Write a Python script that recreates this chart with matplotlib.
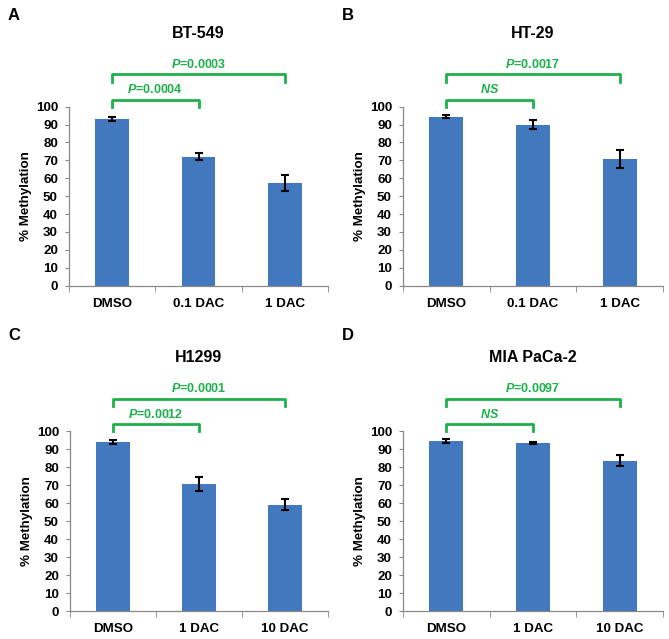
import matplotlib.pyplot as plt

plt.rcParams['font.family'] = 'Liberation Sans'
plt.rcParams['font.weight'] = 'bold'
plt.rcParams['mathtext.fontset'] = 'custom'
plt.rcParams['mathtext.it'] = 'Liberation Sans:italic:bold'
plt.rcParams['mathtext.rm'] = 'Liberation Sans:bold'

# data
titles = ['BT-549', 'HT-29', 'H1299', 'MIA PaCa-2']
letters = ['A', 'B', 'C', 'D']
groups_ab = ['DMSO', '0.1 DAC', '1 DAC']
groups_cd = ['DMSO', '1 DAC', '10 DAC']

bt549_mean = [93.0, 72.0, 57.5]
bt549_err = [1.0, 2.0, 4.5]
ht29_mean = [94.5, 90.0, 71.0]
ht29_err = [1.0, 2.5, 5.0]
h1299_mean = [94.0, 70.5, 59.0]
h1299_err = [1.0, 4.0, 3.0]
mia_mean = [94.5, 93.3, 83.5]
mia_err = [1.0, 0.7, 3.0]

pval_near = ['$P$=0.0004', '$NS$', '$P$=0.0012', '$NS$']
pval_far = ['$P$=0.0003', '$P$=0.0017', '$P$=0.0001', '$P$=0.0097']

bar_color = '#4178BE'
green = '#1DB04B'

fig = plt.figure(figsize=(6.69, 6.39), dpi=100)

# axes boxes in pixels: left, right, y of value 0, y of value 100
boxes = [(69, 328, 285.7, 106.7), (403, 663, 285.7, 106.7),
         (70, 328, 611, 431), (403, 663, 611, 431)]
letter_pos = [(14, 15), (348, 15), (14, 335), (348, 335)]

means = [bt549_mean, ht29_mean, h1299_mean, mia_mean]
errs = [bt549_err, ht29_err, h1299_err, mia_err]
cats = [groups_ab, groups_ab, groups_cd, groups_cd]

W, H = 669, 639
for i in range(4):
    l, r, y0, y100 = boxes[i]
    ax = fig.add_axes([l / W, 1 - y0 / H, (r - l) / W, (y0 - y100) / H])
    x = list(range(3))
    ax.bar(x, means[i], width=0.39, color=bar_color, zorder=2)
    ax.errorbar(x, means[i], yerr=errs[i], fmt='none', ecolor='black',
                elinewidth=1.5, capsize=2.8, capthick=1.5, zorder=3)
    ax.set_xlim(-0.5, 2.5)
    ax.set_ylim(0, 100)
    ax.set_yticks(range(0, 101, 10))
    ax.set_xticks(x)
    ax.set_xticklabels(cats[i], fontsize=9.6, fontweight='bold')
    ax.set_xticks([-0.5, 0.5, 1.5, 2.5], minor=True)
    ax.tick_params(axis='x', which='major', length=0, pad=9)
    ax.tick_params(axis='x', which='minor', length=4, color='#888888', direction='out')
    ax.tick_params(axis='y', length=3, color='#888888', labelsize=9.6, pad=5)
    for lab in ax.get_yticklabels():
        lab.set_fontweight('bold')
    for s in ['top', 'right']:
        ax.spines[s].set_visible(False)
    for s in ['left', 'bottom']:
        ax.spines[s].set_color('#888888')
        ax.spines[s].set_linewidth(0.9)
    ax.set_ylabel('% Methylation', fontsize=9.6, fontweight='bold')
    ax.yaxis.set_label_coords(-0.143, 0.5)

    # significance brackets
    for (x2, yb, txt) in [(1, 104.0, pval_near[i]), (2, 118.0, pval_far[i])]:
        ax.plot([0, 0, x2, x2], [yb - 4, yb, yb, yb - 4], color=green,
                lw=2, clip_on=False, solid_joinstyle='round')
        ax.text(x2 / 2, yb + 1.8, txt, color=green, fontsize=9, ha='center',
                va='bottom', fontweight='bold')

    ax.text(0.5, 1.41, titles[i], transform=ax.transAxes, ha='center',
            va='center', fontsize=11.5, fontweight='bold')
    lx, ly = letter_pos[i]
    fig.text(lx / W, 1 - ly / H, letters[i], fontsize=12, fontweight='bold',
             ha='center', va='center')

fig.savefig('out.png', dpi=100)
